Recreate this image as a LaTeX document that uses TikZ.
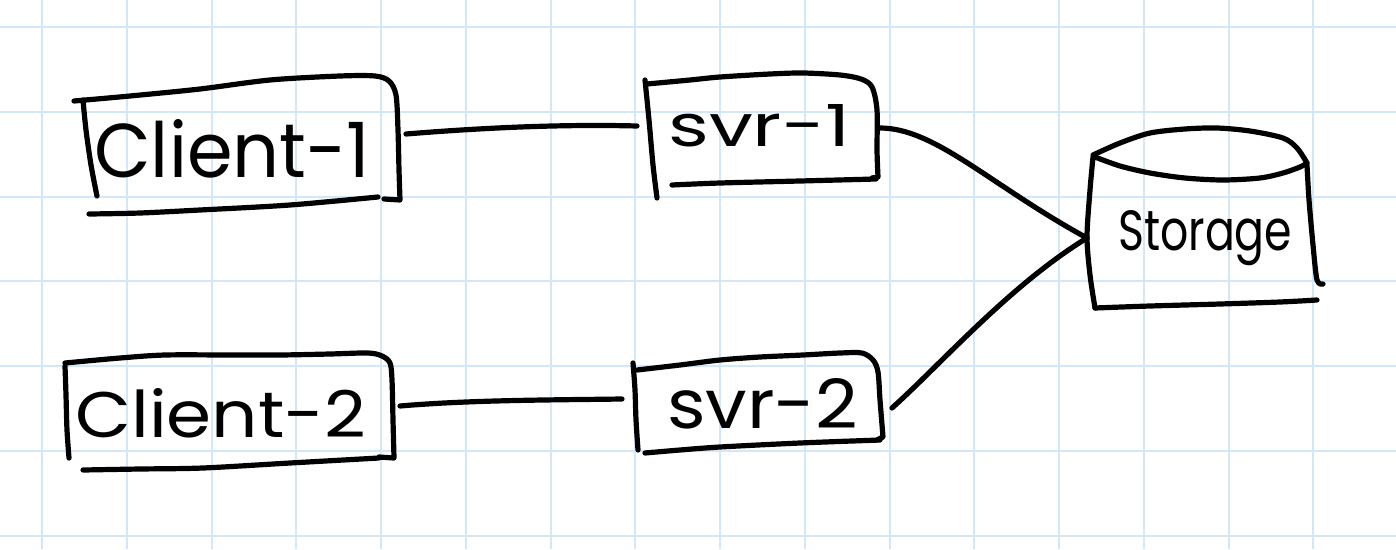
\documentclass[tikz,border=0pt]{standalone}
\usepackage{fontspec}
\setmainfont{Poppins}
\usepackage{graphicx}
\definecolor{gridblue}{RGB}{210,231,250}
\tikzset{
  gridline/.style={draw=gridblue, line width=2pt},
  ink/.style={draw=black, line width=5.2pt, line cap=round, line join=round},
  txt/.style={inner sep=0pt, anchor=base west, text=black},
}
\begin{document}
\begin{tikzpicture}[x=1pt,y=-1pt]
\fill[white] (0,0) rectangle (1396,549);
\useasboundingbox (0,0) rectangle (1396,549);
% grid paper
\foreach \i in {0,...,16} \draw[gridline] ({42+84.75*\i},0) -- ({42+84.75*\i},549);
\foreach \j in {0,...,6} \draw[gridline] (0,{27+84.75*\j}) -- (1396,{27+84.75*\j});

% ---- Client-1
\draw[ink] plot[smooth] coordinates {(74,101) (130,96) (200,89) (270,80) (340,76) (375,76) (389,81) (396,95) (398,130) (399,170) (400,200)} -- (384,199);
\draw[ink] plot[smooth] coordinates {(83,100) (86,130) (91,165) (97,196)};
\draw[ink] plot[smooth] coordinates {(89,214) (140,213) (200,210) (290,205) (378,197)};
\node[txt] (c1) at (94,177) {\resizebox{276pt}{58pt}{Client-1}};

% ---- Client-2
\draw[ink] plot[smooth] coordinates {(65,363) (120,358) (165,355) (230,355) (280,355) (330,354) (368,353) (382,356) (390,363) (392,380) (393,420) (394,458)} -- (379,457);
\draw[ink] plot[smooth] coordinates {(65,366) (66,395) (67,430) (69,458)};
\draw[ink] plot[smooth] coordinates {(83,470) (140,469) (203,468) (290,463) (379,458)};
\node[txt] (c2) at (75,437) {\resizebox{291pt}{49pt}{Client-2}};

% ---- svr-1
\draw[ink] plot[smooth] coordinates {(647,84) (690,80) (720,77) (770,74) (803,73) (840,75) (861,79) (872,87) (877,110) (877,150) (878,177)} -- (872,178);
\draw[ink] plot[smooth] coordinates {(645,80) (649,120) (653,165) (657,198)};
\draw[ink] plot[smooth] coordinates {(672,185) (720,183) (800,181) (876,179)};
\node[txt] (s1) at (668,146) {\resizebox{182pt}{42pt}{svr-1}};

% ---- svr-2
\draw[ink] plot[smooth] coordinates {(637,370) (680,365) (720,360) (760,357) (803,355) (840,353) (862,353) (873,360) (878,372) (880,400) (883,437)} -- (877,440);
\draw[ink] plot[smooth] coordinates {(633,363) (635,390) (636,420) (638,450)};
\draw[ink] plot[smooth] coordinates {(645,453) (680,450) (720,447) (800,443) (880,440)};
\node[txt] (s2) at (667,428) {\resizebox{191pt}{50pt}{svr-2}};

% ---- Storage (cylinder)
\draw[ink] plot[smooth] coordinates {(1093,155) (1120,143) (1150,133) (1185,129) (1217,128) (1250,131) (1283,138) (1297,148) (1307,163)};
\draw[ink] plot[smooth] coordinates {(1095,157) (1120,166) (1150,173) (1185,178) (1223,180) (1260,178) (1283,173) (1300,167) (1307,163)};
\draw[ink] plot[smooth] coordinates {(1093,157) (1090,190) (1087,237) (1090,275) (1095,308)};
\draw[ink] plot[smooth] coordinates {(1307,165) (1309,200) (1313,245) (1317,280) (1323,284)};
\draw[ink] plot[smooth] coordinates {(1095,308) (1150,306) (1220,304) (1280,302) (1317,300)};
\node[txt] (st) at (1118,250) {\resizebox{174pt}{40pt}{Storage}};

% ---- connector end points
\coordinate (c1r) at (406,134);
\coordinate (s1l) at (637,126);
\coordinate (c2r) at (400,406);
\coordinate (s2l) at (622,399);
\coordinate (s1r) at (880,128);
\coordinate (s2r) at (892,408);
\coordinate (stl) at (1087,238);

% ---- connectors
\draw[ink] (c1r) .. controls (480,128) and (560,124) .. (s1l);
\draw[ink] (c2r) .. controls (470,400) and (550,400) .. (s2l);
\draw[ink] (s1r) .. controls (935,128) and (990,185) .. (stl);
\draw[ink] (s2r) .. controls (940,365) and (1010,285) .. (stl);
\end{tikzpicture}
\end{document}
